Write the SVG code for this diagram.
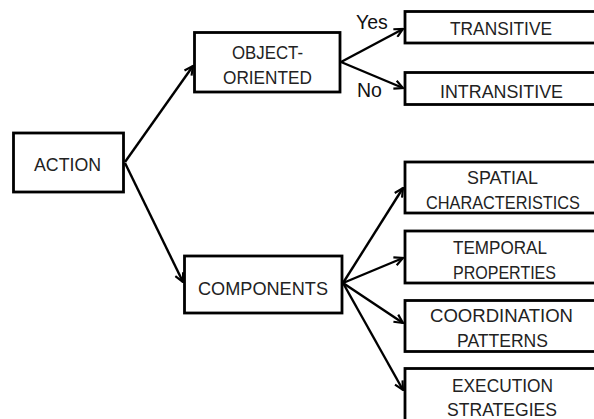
<svg xmlns="http://www.w3.org/2000/svg" width="594" height="419" viewBox="0 0 594 419">
<defs>
<style>
.box{fill:#fff;stroke:#000;stroke-width:2.8}
.t{font-family:"Liberation Sans",Arial,sans-serif;font-size:19px;fill:#222;text-anchor:middle}
.lbl{font-family:"Liberation Sans",Arial,sans-serif;font-size:19.5px;fill:#111}
.c{stroke:#000;stroke-width:2.4;fill:none;marker-end:url(#ah)}
</style>
<marker id="ah" viewBox="0 0 10 10" refX="9" refY="5" markerWidth="4.5" markerHeight="4.5" orient="auto" markerUnits="strokeWidth">
<path d="M1,1 L9,5 L1,9" fill="none" stroke="#000" stroke-width="2"/>
</marker>
</defs>
<rect width="594" height="419" fill="#fff"/>
<g id="connectors">
<line class="c" x1="125" y1="162" x2="193" y2="66"/>
<line class="c" x1="125" y1="163" x2="183" y2="282"/>
<line class="c" x1="341" y1="62" x2="403" y2="29"/>
<line class="c" x1="341" y1="62" x2="403" y2="88"/>
<line class="c" x1="343" y1="283" x2="403" y2="188"/>
<line class="c" x1="343" y1="283" x2="403" y2="258"/>
<line class="c" x1="343" y1="283" x2="403" y2="323"/>
<line class="c" x1="343" y1="283" x2="403" y2="390"/>
<text class="lbl" x="356" y="29">Yes</text>
<text class="lbl" x="357" y="97">No</text>
</g>
<g id="action">
<rect class="box" x="13.5" y="133" width="110" height="59"/>
<text class="t" x="67.5" y="171" textLength="67" lengthAdjust="spacingAndGlyphs">ACTION</text>
</g>
<g id="object-oriented">
<rect class="box" x="194.5" y="32.5" width="145.5" height="59.5"/>
<text class="t" x="267.5" y="59" textLength="71" lengthAdjust="spacingAndGlyphs">OBJECT-</text>
<text class="t" x="267.5" y="84" textLength="89" lengthAdjust="spacingAndGlyphs">ORIENTED</text>
</g>
<g id="components">
<rect class="box" x="184.5" y="256" width="157.5" height="57"/>
<text class="t" x="263" y="295" textLength="130" lengthAdjust="spacingAndGlyphs">COMPONENTS</text>
</g>
<g id="transitive">
<rect class="box" x="405" y="11.5" width="200" height="31.5"/>
<text class="t" x="501" y="35" textLength="102" lengthAdjust="spacingAndGlyphs">TRANSITIVE</text>
</g>
<g id="intransitive">
<rect class="box" x="405" y="72.5" width="200" height="32"/>
<text class="t" x="501.5" y="98" textLength="123" lengthAdjust="spacingAndGlyphs">INTRANSITIVE</text>
</g>
<g id="spatial">
<rect class="box" x="405" y="162" width="200" height="51"/>
<text class="t" x="502.5" y="184" textLength="71" lengthAdjust="spacingAndGlyphs">SPATIAL</text>
<text class="t" x="503" y="208.5" font-size="18.5" textLength="154" lengthAdjust="spacingAndGlyphs">CHARACTERISTICS</text>
</g>
<g id="temporal">
<rect class="box" x="405" y="231" width="200" height="52"/>
<text class="t" x="500" y="254" textLength="94" lengthAdjust="spacingAndGlyphs">TEMPORAL</text>
<text class="t" x="504.5" y="279" textLength="103" lengthAdjust="spacingAndGlyphs">PROPERTIES</text>
</g>
<g id="coordination">
<rect class="box" x="405" y="300.5" width="200" height="51"/>
<text class="t" x="501.5" y="322" textLength="143" lengthAdjust="spacingAndGlyphs">COORDINATION</text>
<text class="t" x="502.5" y="347" textLength="91" lengthAdjust="spacingAndGlyphs">PATTERNS</text>
</g>
<g id="execution">
<rect class="box" x="405" y="368.5" width="200" height="60"/>
<text class="t" x="502.5" y="392" textLength="101" lengthAdjust="spacingAndGlyphs">EXECUTION</text>
<text class="t" x="502" y="416" textLength="110" lengthAdjust="spacingAndGlyphs">STRATEGIES</text>
</g>
</svg>
